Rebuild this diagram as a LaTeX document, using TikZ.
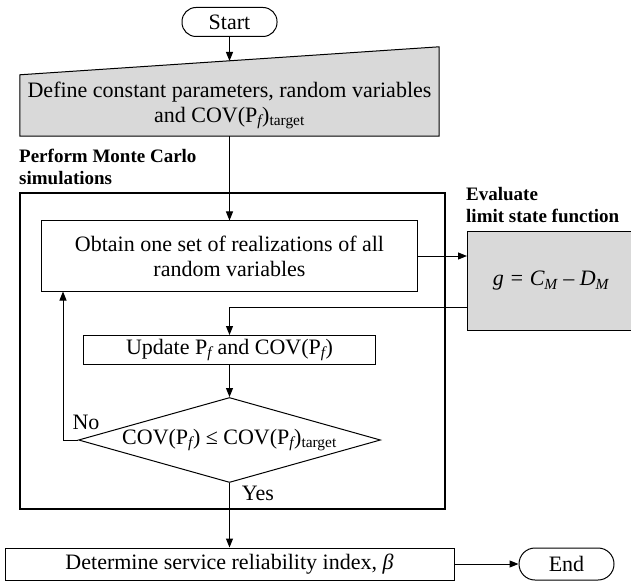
\documentclass[tikz,border=0pt]{standalone}
\usepackage{fontspec}
\setmainfont{Liberation Serif}
\usepackage{tikz}
\usetikzlibrary{positioning}
\usetikzlibrary{arrows.meta,shapes,shapes.geometric}
\usetikzlibrary{backgrounds}
\definecolor{boxgray}{RGB}{217,217,217}
\tikzset{
  every node/.style={font=\fontsize{22}{25}\selectfont},
  term/.style={draw, line width=1pt, rounded corners=14pt, minimum width=95pt, minimum height=29pt, inner sep=0pt},
  process/.style={draw, line width=1pt, inner sep=0pt, align=center},
  decision/.style={draw, line width=1pt, diamond, aspect=3.55, inner sep=0pt, minimum width=302pt, minimum height=85pt},
  heading/.style={font=\fontsize{19}{22}\bfseries\selectfont, align=left, inner sep=0pt},
  flow/.style={-{Triangle[length=9pt,width=7pt]}, line width=1pt},
}

\begin{document}
\begin{tikzpicture}[x=1pt,y=-1pt]
\useasboundingbox (0,0) rectangle (631,585);
\node[term] (start) at (229.5,22) {Start};
\node[inner sep=0pt, minimum width=419pt, minimum height=61pt, align=center] (define) at (229.5,105.5)
  {Define constant parameters, random variables\\and COV(P\textsubscript{\itshape f})\textsubscript{target}};
\coordinate (definetop) at (229.5,61);
\begin{scope}[on background layer]
\draw[fill=boxgray, line width=1pt] (define.south west) -- (define.north west)
  -- ([yshift=28pt]define.north east) -- (define.south east) -- cycle;
\end{scope}
\node[heading, anchor=west] (mcsim) at (19,167) {Perform Monte Carlo\\simulations};
% simulation loop frame
\draw[line width=2.5pt] (20,193) rectangle (445,509);
\node[process, minimum width=376pt, minimum height=70pt] (obtain) at (229.5,256)
  {Obtain one set of realizations of all\\random variables};
\node[heading, anchor=west] (evallabel) at (466,205) {Evaluate\\limit state function};
\node[process, fill=boxgray, minimum width=167pt, minimum height=98pt, anchor=west] (gbox) at (467,281)
  {\itshape g = C\textsubscript{M} – D\textsubscript{M}};
\node[process, minimum width=292pt, minimum height=29pt] (update) at (229.5,350)
  {Update P\textsubscript{\itshape f} and COV(P\textsubscript{\itshape f})};
\node[decision] (check) at (229.5,440)
  {COV(P\textsubscript{\itshape f}) ≤ COV(P\textsubscript{\itshape f})\textsubscript{target}};
\node[process, minimum width=449pt, minimum height=32pt] (determine) at (229.5,564)
  {Determine service reliability index, {\itshape β}};
\node[term, minimum height=32pt, rounded corners=16pt] (end) at (566.5,564) {End};
\node[inner sep=0pt] (no) at (86,422) {No};
\node[inner sep=0pt] (yes) at (258,493) {Yes};

\draw[flow] (start) -- (definetop);
\draw[flow] (define.south) -- (obtain.north);
\draw[flow] (obtain.east) -- (obtain.east -| gbox.west);
\draw[flow] ([yshift=-26pt]gbox.west) -| (update.north);
\draw[flow] (update) -- (check);
\draw[flow] (check.west) -| ([xshift=22pt]obtain.south west);
\draw[flow] (check) -- (determine);
\draw[flow] (determine) -- (end);
\end{tikzpicture}
\end{document}
